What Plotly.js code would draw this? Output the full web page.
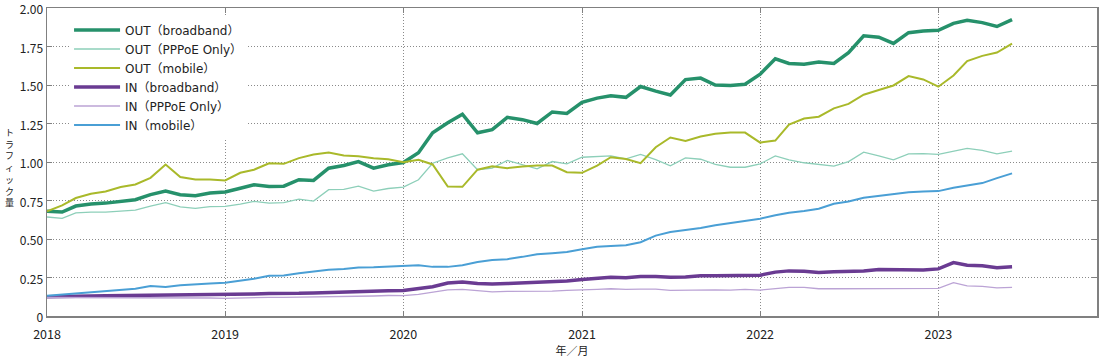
<!DOCTYPE html>
<html>
<head>
<meta charset="utf-8">
<script src="https://cdn.plot.ly/plotly-3.0.1.min.js"></script>
<style>html,body{margin:0;padding:0;background:#fff;}#chart{width:1100px;height:359px;}</style>
</head>
<body>
<div id="chart"></div>
<script>
const months = [
"2018-01","2018-02","2018-03","2018-04","2018-05","2018-06","2018-07","2018-08","2018-09","2018-10","2018-11","2018-12",
"2019-01","2019-02","2019-03","2019-04","2019-05","2019-06","2019-07","2019-08","2019-09","2019-10","2019-11","2019-12",
"2020-01","2020-02","2020-03","2020-04","2020-05","2020-06","2020-07","2020-08","2020-09","2020-10","2020-11","2020-12",
"2021-01","2021-02","2021-03","2021-04","2021-05","2021-06","2021-07","2021-08","2021-09","2021-10","2021-11","2021-12",
"2022-01","2022-02","2022-03","2022-04","2022-05","2022-06","2022-07","2022-08","2022-09","2022-10","2022-11","2022-12",
"2023-01","2023-02","2023-03","2023-04","2023-05","2023-06"];

const outBroadband = [
0.68,0.675,0.714,0.727,0.733,0.744,0.755,0.788,0.811,0.788,0.781,0.798,
0.805,0.83,0.852,0.841,0.843,0.885,0.88,0.96,0.977,1.003,0.96,0.982,
0.997,1.06,1.19,1.255,1.31,1.19,1.21,1.29,1.275,1.25,1.325,1.315,
1.387,1.415,1.43,1.42,1.49,1.46,1.435,1.535,1.545,1.50,1.497,1.505,
1.57,1.67,1.64,1.635,1.65,1.64,1.71,1.82,1.81,1.77,1.84,1.85,
1.855,1.90,1.92,1.905,1.88,1.925];

const outPPPoE = [
0.643,0.634,0.669,0.675,0.675,0.682,0.688,0.714,0.736,0.708,0.699,0.71,
0.712,0.727,0.744,0.733,0.736,0.759,0.746,0.82,0.822,0.843,0.811,0.828,
0.837,0.885,0.992,1.027,1.053,0.95,0.96,1.01,0.984,0.956,1.003,0.988,
1.031,1.036,1.04,1.02,1.049,1.016,0.975,1.027,1.018,0.984,0.966,0.966,
0.988,1.04,1.014,0.995,0.984,0.973,1.003,1.064,1.04,1.014,1.053,1.055,
1.05,1.07,1.089,1.076,1.053,1.07];

const outMobile = [
0.68,0.718,0.766,0.794,0.809,0.837,0.854,0.897,0.984,0.902,0.887,0.887,
0.88,0.93,0.95,0.992,0.988,1.025,1.049,1.061,1.042,1.038,1.025,1.018,
0.998,1.014,0.984,0.841,0.839,0.95,0.973,0.96,0.971,0.977,0.977,0.934,
0.93,0.977,1.031,1.02,0.992,1.096,1.159,1.137,1.165,1.184,1.191,1.191,
1.126,1.139,1.243,1.282,1.294,1.348,1.377,1.437,1.467,1.497,1.558,1.536,
1.489,1.562,1.655,1.689,1.711,1.769];

const inBroadband = [
0.125,0.125,0.128,0.130,0.131,0.132,0.133,0.134,0.135,0.136,0.137,0.138,
0.136,0.14,0.143,0.146,0.145,0.147,0.15,0.153,0.158,0.162,0.164,0.164,
0.165,0.177,0.19,0.214,0.22,0.211,0.207,0.211,0.214,0.216,0.222,0.227,
0.237,0.244,0.252,0.248,0.257,0.257,0.252,0.254,0.261,0.261,0.263,0.264,
0.265,0.285,0.293,0.29,0.283,0.287,0.29,0.293,0.302,0.302,0.302,0.298,
0.306,0.347,0.33,0.326,0.313,0.319];

const inPPPoE = [
0.12,0.12,0.121,0.121,0.121,0.12,0.12,0.12,0.12,0.119,0.118,0.117,
0.115,0.118,0.12,0.121,0.121,0.122,0.123,0.125,0.127,0.128,0.13,0.133,
0.132,0.14,0.153,0.17,0.173,0.164,0.157,0.16,0.16,0.16,0.162,0.166,
0.168,0.173,0.177,0.173,0.175,0.175,0.166,0.168,0.168,0.17,0.168,0.173,
0.168,0.177,0.186,0.186,0.177,0.177,0.177,0.179,0.179,0.179,0.179,0.177,
0.179,0.216,0.196,0.192,0.183,0.186];

const inMobile = [
0.132,0.14,0.149,0.155,0.164,0.168,0.177,0.194,0.188,0.199,0.207,0.211,
0.216,0.229,0.242,0.261,0.263,0.278,0.291,0.30,0.306,0.315,0.317,0.32,
0.325,0.33,0.319,0.319,0.33,0.351,0.364,0.369,0.384,0.401,0.408,0.416,
0.434,0.449,0.455,0.46,0.479,0.522,0.546,0.557,0.572,0.589,0.604,0.62,
0.632,0.654,0.671,0.682,0.697,0.729,0.744,0.768,0.781,0.792,0.803,0.809,
0.811,0.833,0.846,0.863,0.895,0.926];

const seriesNames = ["OUT（broadband）","OUT（PPPoE Only）","OUT（mobile）","IN（broadband）","IN（PPPoE Only）","IN（mobile）"];
const seriesValues = [outBroadband, outPPPoE, outMobile, inBroadband, inPPPoE, inMobile];
const seriesColors = ["#26916b","#8dcfb9","#a9b92a","#6a3b92","#bba3d5","#4a9fd5"];
const seriesWidths = [3.5, 1.3, 2, 3.5, 1.3, 2];

const yTickVals = [0,0.25,0.5,0.75,1.0,1.25,1.5,1.75,2.0];
const yTickText = ["0","0.25","0.50","0.75","1.00","1.25","1.50","1.75","2.00"];
const yTitleChars = ["ト","ラ","フ","ィ","ッ","ク","量"];
const xTitle = "年／月";

const FONT = '"Noto Sans CJK JP", "Noto Sans", sans-serif';
const LEGEND_FONT = '"DejaVu Sans", "Noto Sans CJK JP", sans-serif';

const traces = seriesNames.map((n, i) => ({
  type: "scatter", mode: "lines", name: n,
  x: months.map(m => m + "-01"), y: seriesValues[i],
  line: {color: seriesColors[i], width: seriesWidths[i]},
  hoverinfo: "skip"
}));

const TOP = 8, BOTTOM = 316, plotH = BOTTOM - TOP;
const annotations = [{
  text: yTitleChars.join("<br>"), xref: "paper", yref: "paper",
  x: -0.0355, y: (BOTTOM - 168) / plotH,
  xanchor: "center", yanchor: "middle", showarrow: false, align: "center",
  font: {family: FONT, size: 9, color: "#222"}
}];

const GRID_DASH = "1px,2px";

const layout = {
  width: 1100, height: 359,
  margin: {l: 47, r: 3, t: TOP, b: 359 - BOTTOM},
  paper_bgcolor: "#fff", plot_bgcolor: "#fff",
  font: {family: FONT, size: 13, color: "#222"},
  showlegend: true,
  legend: {
    x: 0.021, y: 1 - 7.5 / plotH, xanchor: "left", yanchor: "top",
    bgcolor: "#fff", borderwidth: 0,
    font: {family: LEGEND_FONT, size: 12, color: "#222"},
    traceorder: "normal", itemwidth: 46
  },
  xaxis: {
    type: "date", range: ["2018-01-01", "2023-11-22"],
    tick0: "2018-01-01", dtick: "M12", tickformat: "%Y",
    showgrid: true, gridcolor: "#8a8a8a", griddash: GRID_DASH, gridwidth: 1,
    showline: true, linecolor: "#808080", linewidth: 1.5, mirror: "allticks",
    ticks: "inside", ticklen: 5, tickcolor: "#808080", tickwidth: 1,
    zeroline: false, ticklabelstandoff: 6,
    tickfont: {family: FONT, size: 12.5, color: "#222"},
    title: {text: xTitle, font: {family: FONT, size: 11, color: "#222"}, standoff: 6}
  },
  yaxis: {
    range: [0, 2], tickvals: yTickVals, ticktext: yTickText,
    showgrid: true, gridcolor: "#8a8a8a", griddash: GRID_DASH, gridwidth: 1,
    showline: true, linecolor: "#808080", linewidth: 1.5, mirror: "allticks",
    ticks: "inside", ticklen: 5, tickcolor: "#808080", tickwidth: 1,
    zeroline: false, ticklabeloverflow: "allow", ticklabelshift: 2,
    tickfont: {family: FONT, size: 12, color: "#222"}
  },
  shapes: [{
    type: "rect", xref: "paper", yref: "paper", layer: "between",
    x0: 7 / 1050, x1: 223 / 1050, y0: (BOTTOM - 145) / plotH, y1: 1 - 6 / plotH,
    fillcolor: "#fff", line: {width: 0}
  }],
  annotations: annotations
};

Plotly.newPlot("chart", traces, layout, {displayModeBar: false, staticPlot: true});
</script>
</body>
</html>
